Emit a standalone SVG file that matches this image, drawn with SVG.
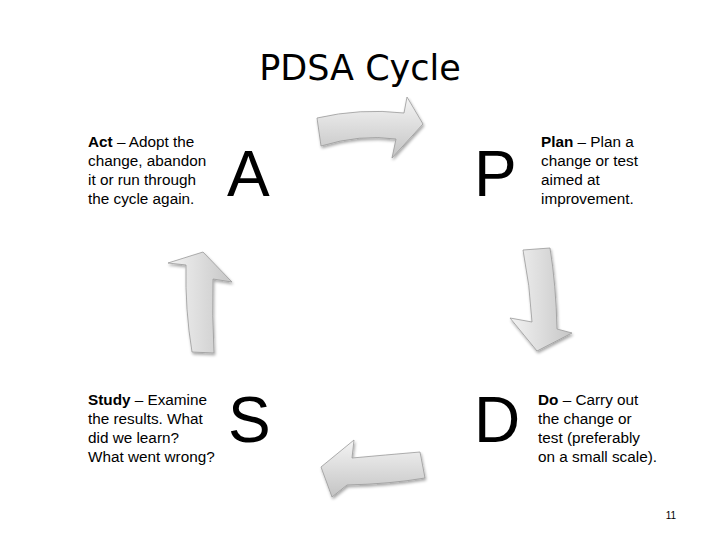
<svg xmlns="http://www.w3.org/2000/svg" width="720" height="540" viewBox="0 0 720 540">
<defs>
<style>
.title{font-family:"DejaVu Sans",Verdana,sans-serif;font-size:35px;fill:#000}
.big{font-family:"Liberation Sans",Arial,sans-serif;font-size:64px;fill:#000}
.desc{font-family:"Liberation Sans",Arial,sans-serif;font-size:15.3px;fill:#000}
.desc .b{font-weight:bold}
.pg{font-family:"Liberation Sans",Arial,sans-serif;font-size:10px;fill:#000}
.arrow{stroke:#9a9a9a;stroke-width:0.8;stroke-linejoin:round}
</style>
<linearGradient id="gH" x1="0" y1="0" x2="0" y2="1">
<stop offset="0" stop-color="#f4f4f4"/>
<stop offset="0.5" stop-color="#dcdcdc"/>
<stop offset="1" stop-color="#c4c4c4"/>
</linearGradient>
<linearGradient id="gV" x1="0" y1="0" x2="1" y2="0">
<stop offset="0" stop-color="#f2f2f2"/>
<stop offset="0.5" stop-color="#dddddd"/>
<stop offset="1" stop-color="#c6c6c6"/>
</linearGradient>
<filter id="sh" x="-20%" y="-20%" width="140%" height="140%">
<feGaussianBlur in="SourceAlpha" stdDeviation="1.5"/>
<feOffset dx="1" dy="2" result="o"/>
<feComponentTransfer><feFuncA type="linear" slope="0.35"/></feComponentTransfer>
<feMerge><feMergeNode/><feMergeNode in="SourceGraphic"/></feMerge>
</filter>
</defs>
<rect width="720" height="540" fill="#fff"/>
<g id="title"><text class="title" x="360" y="80" text-anchor="middle">PDSA Cycle</text></g>

<g id="act">
<text class="desc" x="88" y="147"><tspan class="b">Act</tspan> – Adopt the</text>
<text class="desc" x="88" y="166">change, abandon</text>
<text class="desc" x="88" y="185">it or run through</text>
<text class="desc" x="88" y="204">the cycle again.</text>
<text class="big" x="227" y="196">A</text>
</g>

<g id="plan">
<text class="big" x="474" y="196">P</text>
<text class="desc" x="541" y="147"><tspan class="b">Plan</tspan> – Plan a</text>
<text class="desc" x="541" y="166">change or test</text>
<text class="desc" x="541" y="185">aimed at</text>
<text class="desc" x="541" y="204">improvement.</text>
</g>

<g id="study">
<text class="desc" x="88" y="405"><tspan class="b">Study</tspan> – Examine</text>
<text class="desc" x="88" y="424">the results. What</text>
<text class="desc" x="88" y="443">did we learn?</text>
<text class="desc" x="88" y="462">What went wrong?</text>
<text class="big" x="228" y="442">S</text>
</g>

<g id="do">
<text class="big" x="474" y="442">D</text>
<text class="desc" x="538" y="405"><tspan class="b">Do</tspan> – Carry out</text>
<text class="desc" x="538" y="424">the change or</text>
<text class="desc" x="538" y="443">test (preferably</text>
<text class="desc" x="538" y="462">on a small scale).</text>
</g>

<g id="connectors" filter="url(#sh)">
<path class="arrow" fill="url(#gH)" d="M317,118 Q360,108 404,113 L407,97 L423,124 L392,158 L396,139 Q360,134 321,146 Z"/>
<path class="arrow" fill="url(#gV)" d="M523,250 Q530,285 532,322 L510,318 L537,351 L572,333 L557,329 Q556,285 550,248 Z"/>
<path class="arrow" fill="url(#gH)" d="M420,452 Q385,455 352,458 L354,440 L321,467 L332,497 L347,485 Q390,484 425,478 Z"/>
<path class="arrow" fill="url(#gV)" d="M192,352 Q185,310 186,265 L168,263 L203,252 L232,282 L213,279 Q212,315 214,353 Z"/>
</g>

<g id="page"><text class="pg" x="671" y="519" text-anchor="middle">11</text></g>
</svg>
